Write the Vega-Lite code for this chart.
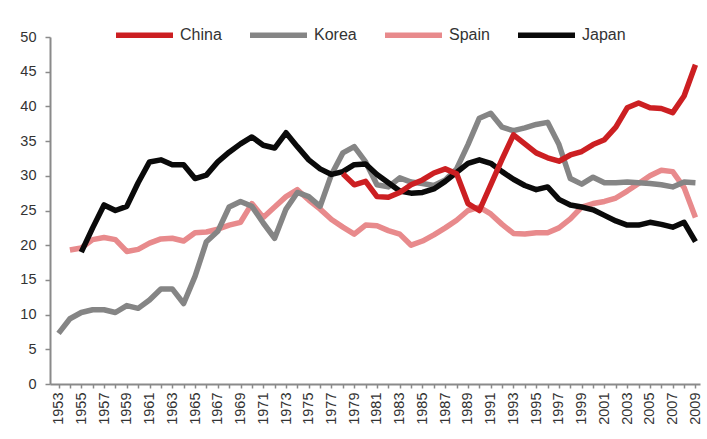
{
  "$schema": "https://vega.github.io/schema/vega-lite/v6.json",
  "width": 650,
  "height": 347,
  "autosize": {"type": "none"},
  "padding": {"left": 50, "top": 37, "right": 7, "bottom": 55},
  "background": "white",
  "datasets": {
    "series": [
      {"country":"Spain","year":1954,"value":19.3},{"country":"Spain","year":1955,"value":19.6},{"country":"Spain","year":1956,"value":20.8},{"country":"Spain","year":1957,"value":21.1},{"country":"Spain","year":1958,"value":20.8},{"country":"Spain","year":1959,"value":19.1},{"country":"Spain","year":1960,"value":19.4},{"country":"Spain","year":1961,"value":20.3},{"country":"Spain","year":1962,"value":20.9},{"country":"Spain","year":1963,"value":21.0},{"country":"Spain","year":1964,"value":20.6},{"country":"Spain","year":1965,"value":21.8},{"country":"Spain","year":1966,"value":21.9},{"country":"Spain","year":1967,"value":22.3},{"country":"Spain","year":1968,"value":22.9},{"country":"Spain","year":1969,"value":23.3},{"country":"Spain","year":1970,"value":26.0},{"country":"Spain","year":1971,"value":24.0},{"country":"Spain","year":1972,"value":25.5},{"country":"Spain","year":1973,"value":27.0},{"country":"Spain","year":1974,"value":28.0},{"country":"Spain","year":1975,"value":26.5},{"country":"Spain","year":1976,"value":25.2},{"country":"Spain","year":1977,"value":23.7},{"country":"Spain","year":1978,"value":22.6},{"country":"Spain","year":1979,"value":21.6},{"country":"Spain","year":1980,"value":22.9},{"country":"Spain","year":1981,"value":22.8},{"country":"Spain","year":1982,"value":22.1},{"country":"Spain","year":1983,"value":21.6},{"country":"Spain","year":1984,"value":20.0},{"country":"Spain","year":1985,"value":20.6},{"country":"Spain","year":1986,"value":21.5},{"country":"Spain","year":1987,"value":22.5},{"country":"Spain","year":1988,"value":23.6},{"country":"Spain","year":1989,"value":25.0},{"country":"Spain","year":1990,"value":25.5},{"country":"Spain","year":1991,"value":24.5},{"country":"Spain","year":1992,"value":23.0},{"country":"Spain","year":1993,"value":21.7},{"country":"Spain","year":1994,"value":21.6},{"country":"Spain","year":1995,"value":21.8},{"country":"Spain","year":1996,"value":21.8},{"country":"Spain","year":1997,"value":22.5},{"country":"Spain","year":1998,"value":23.8},{"country":"Spain","year":1999,"value":25.5},{"country":"Spain","year":2000,"value":26.0},{"country":"Spain","year":2001,"value":26.3},{"country":"Spain","year":2002,"value":26.8},{"country":"Spain","year":2003,"value":27.8},{"country":"Spain","year":2004,"value":28.9},{"country":"Spain","year":2005,"value":30.0},{"country":"Spain","year":2006,"value":30.8},{"country":"Spain","year":2007,"value":30.6},{"country":"Spain","year":2008,"value":28.3},{"country":"Spain","year":2009,"value":24.0},
      {"country":"Korea","year":1953,"value":7.3},{"country":"Korea","year":1954,"value":9.4},{"country":"Korea","year":1955,"value":10.3},{"country":"Korea","year":1956,"value":10.7},{"country":"Korea","year":1957,"value":10.7},{"country":"Korea","year":1958,"value":10.3},{"country":"Korea","year":1959,"value":11.3},{"country":"Korea","year":1960,"value":10.9},{"country":"Korea","year":1961,"value":12.1},{"country":"Korea","year":1962,"value":13.7},{"country":"Korea","year":1963,"value":13.7},{"country":"Korea","year":1964,"value":11.6},{"country":"Korea","year":1965,"value":15.5},{"country":"Korea","year":1966,"value":20.5},{"country":"Korea","year":1967,"value":22.0},{"country":"Korea","year":1968,"value":25.5},{"country":"Korea","year":1969,"value":26.3},{"country":"Korea","year":1970,"value":25.6},{"country":"Korea","year":1971,"value":23.2},{"country":"Korea","year":1972,"value":21.0},{"country":"Korea","year":1973,"value":25.2},{"country":"Korea","year":1974,"value":27.6},{"country":"Korea","year":1975,"value":27.0},{"country":"Korea","year":1976,"value":25.6},{"country":"Korea","year":1977,"value":30.2},{"country":"Korea","year":1978,"value":33.3},{"country":"Korea","year":1979,"value":34.2},{"country":"Korea","year":1980,"value":32.0},{"country":"Korea","year":1981,"value":28.7},{"country":"Korea","year":1982,"value":28.4},{"country":"Korea","year":1983,"value":29.7},{"country":"Korea","year":1984,"value":29.1},{"country":"Korea","year":1985,"value":28.9},{"country":"Korea","year":1986,"value":28.6},{"country":"Korea","year":1987,"value":29.4},{"country":"Korea","year":1988,"value":31.0},{"country":"Korea","year":1989,"value":34.5},{"country":"Korea","year":1990,"value":38.3},{"country":"Korea","year":1991,"value":39.0},{"country":"Korea","year":1992,"value":37.0},{"country":"Korea","year":1993,"value":36.5},{"country":"Korea","year":1994,"value":36.9},{"country":"Korea","year":1995,"value":37.4},{"country":"Korea","year":1996,"value":37.7},{"country":"Korea","year":1997,"value":34.5},{"country":"Korea","year":1998,"value":29.6},{"country":"Korea","year":1999,"value":28.8},{"country":"Korea","year":2000,"value":29.8},{"country":"Korea","year":2001,"value":29.0},{"country":"Korea","year":2002,"value":29.0},{"country":"Korea","year":2003,"value":29.1},{"country":"Korea","year":2004,"value":29.0},{"country":"Korea","year":2005,"value":28.9},{"country":"Korea","year":2006,"value":28.7},{"country":"Korea","year":2007,"value":28.4},{"country":"Korea","year":2008,"value":29.1},{"country":"Korea","year":2009,"value":29.0},
      {"country":"Japan","year":1955,"value":19.0},{"country":"Japan","year":1956,"value":22.5},{"country":"Japan","year":1957,"value":25.8},{"country":"Japan","year":1958,"value":25.0},{"country":"Japan","year":1959,"value":25.6},{"country":"Japan","year":1960,"value":29.0},{"country":"Japan","year":1961,"value":32.0},{"country":"Japan","year":1962,"value":32.3},{"country":"Japan","year":1963,"value":31.6},{"country":"Japan","year":1964,"value":31.6},{"country":"Japan","year":1965,"value":29.6},{"country":"Japan","year":1966,"value":30.1},{"country":"Japan","year":1967,"value":32.0},{"country":"Japan","year":1968,"value":33.4},{"country":"Japan","year":1969,"value":34.6},{"country":"Japan","year":1970,"value":35.6},{"country":"Japan","year":1971,"value":34.4},{"country":"Japan","year":1972,"value":34.0},{"country":"Japan","year":1973,"value":36.2},{"country":"Japan","year":1974,"value":34.2},{"country":"Japan","year":1975,"value":32.3},{"country":"Japan","year":1976,"value":31.0},{"country":"Japan","year":1977,"value":30.2},{"country":"Japan","year":1978,"value":30.6},{"country":"Japan","year":1979,"value":31.6},{"country":"Japan","year":1980,"value":31.7},{"country":"Japan","year":1981,"value":30.2},{"country":"Japan","year":1982,"value":29.0},{"country":"Japan","year":1983,"value":27.8},{"country":"Japan","year":1984,"value":27.5},{"country":"Japan","year":1985,"value":27.6},{"country":"Japan","year":1986,"value":28.1},{"country":"Japan","year":1987,"value":29.2},{"country":"Japan","year":1988,"value":30.5},{"country":"Japan","year":1989,"value":31.8},{"country":"Japan","year":1990,"value":32.3},{"country":"Japan","year":1991,"value":31.8},{"country":"Japan","year":1992,"value":30.6},{"country":"Japan","year":1993,"value":29.5},{"country":"Japan","year":1994,"value":28.6},{"country":"Japan","year":1995,"value":28.0},{"country":"Japan","year":1996,"value":28.4},{"country":"Japan","year":1997,"value":26.6},{"country":"Japan","year":1998,"value":25.8},{"country":"Japan","year":1999,"value":25.5},{"country":"Japan","year":2000,"value":25.1},{"country":"Japan","year":2001,"value":24.3},{"country":"Japan","year":2002,"value":23.5},{"country":"Japan","year":2003,"value":22.9},{"country":"Japan","year":2004,"value":22.9},{"country":"Japan","year":2005,"value":23.3},{"country":"Japan","year":2006,"value":23.0},{"country":"Japan","year":2007,"value":22.6},{"country":"Japan","year":2008,"value":23.3},{"country":"Japan","year":2009,"value":20.5},
      {"country":"China","year":1978,"value":30.3},{"country":"China","year":1979,"value":28.7},{"country":"China","year":1980,"value":29.2},{"country":"China","year":1981,"value":27.0},{"country":"China","year":1982,"value":26.9},{"country":"China","year":1983,"value":27.6},{"country":"China","year":1984,"value":28.7},{"country":"China","year":1985,"value":29.4},{"country":"China","year":1986,"value":30.4},{"country":"China","year":1987,"value":31.0},{"country":"China","year":1988,"value":30.3},{"country":"China","year":1989,"value":26.0},{"country":"China","year":1990,"value":25.0},{"country":"China","year":1991,"value":28.7},{"country":"China","year":1992,"value":32.4},{"country":"China","year":1993,"value":35.9},{"country":"China","year":1994,"value":34.6},{"country":"China","year":1995,"value":33.3},{"country":"China","year":1996,"value":32.6},{"country":"China","year":1997,"value":32.1},{"country":"China","year":1998,"value":33.0},{"country":"China","year":1999,"value":33.5},{"country":"China","year":2000,"value":34.5},{"country":"China","year":2001,"value":35.2},{"country":"China","year":2002,"value":37.0},{"country":"China","year":2003,"value":39.8},{"country":"China","year":2004,"value":40.5},{"country":"China","year":2005,"value":39.8},{"country":"China","year":2006,"value":39.7},{"country":"China","year":2007,"value":39.1},{"country":"China","year":2008,"value":41.5},{"country":"China","year":2009,"value":46.0}
    ]
  },
  "data": {"name": "series"},
  "config": {
    "view": {"stroke": null},
    "font": "Liberation Sans"
  },
  "mark": {"type": "line", "strokeWidth": 5.5, "strokeJoin": "round", "strokeCap": "butt"},
  "encoding": {
    "x": {
      "field": "year",
      "type": "quantitative",
      "scale": {"domain": [1952.25, 2009.4], "nice": false, "zero": false},
      "axis": {
        "title": null,
        "grid": false,
        "values": [1953,1954,1955,1956,1957,1958,1959,1960,1961,1962,1963,1964,1965,1966,1967,1968,1969,1970,1971,1972,1973,1974,1975,1976,1977,1978,1979,1980,1981,1982,1983,1984,1985,1986,1987,1988,1989,1990,1991,1992,1993,1994,1995,1996,1997,1998,1999,2000,2001,2002,2003,2004,2005,2006,2007,2008,2009],
        "labelExpr": "datum.value % 2 == 1 ? format(datum.value, 'd') : ''",
        "labelOverlap": false,
        "labelAngle": 270,
        "labelFontSize": 14.5,
        "labelColor": "#333333",
        "labelPadding": 4,
        "tickSize": 4,
        "tickColor": "#8a8a8a",
        "domainColor": "#8a8a8a",
        "domainWidth": 2,
        "tickWidth": 1.5
      }
    },
    "y": {
      "field": "value",
      "type": "quantitative",
      "scale": {"domain": [0, 50], "nice": false},
      "axis": {
        "title": null,
        "grid": false,
        "values": [0,5,10,15,20,25,30,35,40,45,50],
        "labelFontSize": 14.5,
        "labelColor": "#333333",
        "labelPadding": 9,
        "tickSize": 5,
        "tickColor": "#8a8a8a",
        "domainColor": "#8a8a8a",
        "domainWidth": 2,
        "tickWidth": 1.5
      }
    },
    "color": {
      "field": "country",
      "type": "nominal",
      "scale": {"domain": ["China", "Korea", "Spain", "Japan"], "range": ["#cc1f22", "#858585", "#e88a8c", "#0a0a0a"]},
      "legend": {
        "title": null,
        "orient": "none",
        "direction": "horizontal",
        "legendX": 63,
        "legendY": -33.5,
        "padding": 0,
        "symbolType": "stroke",
        "symbolSize": 3249,
        "symbolStrokeWidth": 5.5,
        "labelFontSize": 16,
        "labelColor": "#333333",
        "labelOffset": 4,
        "columnPadding": 17,
        "symbolOpacity": 1
      }
    }
  }
}
